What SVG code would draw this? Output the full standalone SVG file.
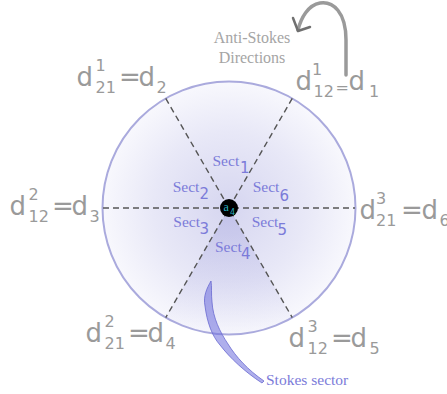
<svg xmlns="http://www.w3.org/2000/svg" width="447" height="394" viewBox="0 0 447 394">
<defs>
<radialGradient id="disk" cx="229" cy="208" r="126.5" gradientUnits="userSpaceOnUse">
<stop offset="0" stop-color="#d6d6f0"/>
<stop offset="0.6" stop-color="#e8e8f7"/>
<stop offset="1" stop-color="#f8f8fd"/>
</radialGradient>
<linearGradient id="wedge" x1="0" y1="208" x2="0" y2="334" gradientUnits="userSpaceOnUse">
<stop offset="0" stop-color="#a8a8e0" stop-opacity="0.45"/>
<stop offset="1" stop-color="#a8a8e0" stop-opacity="0.02"/>
</linearGradient>
<style>
.lbl{font-family:"DejaVu Sans",sans-serif;fill:#9a9a9a;font-size:26px}
.sm{font-size:16px}
.sect{font-family:"Liberation Serif",serif;fill:#7b7bd9;font-size:15.5px}
.sn{font-family:"DejaVu Sans",sans-serif;font-size:15px}
.dash{stroke:#555;stroke-width:1.4;stroke-dasharray:6 4;fill:none}
</style>
</defs>
<g id="disk-node">
<circle cx="229" cy="208" r="126.5" fill="url(#disk)" stroke="#aaaadd" stroke-width="2"/>
<path d="M229,208 L165.75,317.55 A126.5,126.5 0 0 0 292.25,317.55 Z" fill="url(#wedge)"/>
</g>
<g id="connectors">
<line class="dash" x1="103" y1="208" x2="355" y2="208"/>
<line class="dash" x1="165.75" y1="98.45" x2="292.25" y2="317.55"/>
<line class="dash" x1="292.25" y1="98.45" x2="165.75" y2="317.55"/>
<path d="M346,75 L346,40 C346,12 333,1 320,3 C308,5 301,18 298,30" fill="none" stroke="#9a9a9a" stroke-width="3.5" stroke-linecap="round"/>
<path d="M293,18 L298,31 L310,27" fill="none" stroke="#707070" stroke-width="2.5" stroke-linecap="round" stroke-linejoin="round"/>
<path d="M211,281 C207,288 203,296 205,306 C207,322 212,336 220,345 C230,358 245,372 262,383 L264,381 C248,370 236,357 228,344 C220,332 213,318 212,302 C211,294 212,287 211,281 Z" fill="#6e6edc" fill-opacity="0.55" stroke="#6a6ad0" stroke-width="0.8"/>
</g>
<g id="center">
<circle cx="229" cy="208" r="9" fill="#000"/>
<text x="223.5" y="211" font-family="Liberation Serif,serif" font-size="12" fill="#2ab0c0">a</text>
<text x="230" y="215" font-family="DejaVu Sans,sans-serif" font-size="8" fill="#2ab0c0">4</text>
</g>
<g id="sectors">
<text class="sect" x="212.5" y="166">Sect<tspan class="sn" x="240" y="173">1</tspan></text>
<text class="sect" x="172.7" y="192">Sect<tspan class="sn" x="199.5" y="199">2</tspan></text>
<text class="sect" x="252.7" y="192">Sect<tspan class="sn" x="279.5" y="201">6</tspan></text>
<text class="sect" x="173.3" y="227">Sect<tspan class="sn" x="199.5" y="234">3</tspan></text>
<text class="sect" x="251.7" y="227">Sect<tspan class="sn" x="277.5" y="235">5</tspan></text>
<text class="sect" x="215" y="252">Sect<tspan class="sn" x="241" y="259">4</tspan></text>
</g>
<g id="label-d1">
<text class="lbl" x="295.5" y="90">d</text>
<text class="lbl sm" x="312" y="75">1</text>
<text class="lbl sm" x="313.5" y="97">12</text>
<text class="lbl sm" x="335.5" y="93">=</text>
<text class="lbl" x="348.5" y="90">d</text>
<text class="lbl sm" x="369" y="97">1</text>
</g>
<g id="label-d2">
<text class="lbl" x="76.5" y="86">d</text>
<text class="lbl sm" x="95.5" y="71">1</text>
<text class="lbl sm" x="95.5" y="93">21</text>
<text class="lbl" x="119" y="86">=</text>
<text class="lbl" x="138.5" y="86">d</text>
<text class="lbl sm" x="156.5" y="93">2</text>
</g>
<g id="label-d3">
<text class="lbl" x="9.5" y="215">d</text>
<text class="lbl sm" x="28.5" y="200">2</text>
<text class="lbl sm" x="28.5" y="222">12</text>
<text class="lbl" x="52" y="215">=</text>
<text class="lbl" x="71.5" y="215">d</text>
<text class="lbl sm" x="89.5" y="222">3</text>
</g>
<g id="label-d4">
<text class="lbl" x="85.5" y="342">d</text>
<text class="lbl sm" x="104.5" y="327">2</text>
<text class="lbl sm" x="104.5" y="349">21</text>
<text class="lbl" x="128" y="342">=</text>
<text class="lbl" x="147.5" y="342">d</text>
<text class="lbl sm" x="165.5" y="349">4</text>
</g>
<g id="label-d5">
<text class="lbl" x="288.5" y="347">d</text>
<text class="lbl sm" x="307.5" y="332">3</text>
<text class="lbl sm" x="307.5" y="354">12</text>
<text class="lbl" x="331" y="347">=</text>
<text class="lbl" x="350.5" y="347">d</text>
<text class="lbl sm" x="369.5" y="354">5</text>
</g>
<g id="label-d6">
<text class="lbl" x="359.5" y="219">d</text>
<text class="lbl sm" x="376" y="204">3</text>
<text class="lbl sm" x="376" y="226">21</text>
<text class="lbl" x="401" y="219">=</text>
<text class="lbl" x="421.5" y="219">d</text>
<text class="lbl sm" x="439.5" y="226">6</text>
</g>
<g id="anti-stokes">
<text x="252" y="43" font-family="Liberation Serif,serif" font-size="16" fill="#a5a5a5" text-anchor="middle">Anti-Stokes</text>
<text x="252" y="63" font-family="Liberation Serif,serif" font-size="16" fill="#a5a5a5" text-anchor="middle">Directions</text>
</g>
<g id="stokes">
<text x="266" y="385" font-family="Liberation Serif,serif" font-size="15.5" fill="#7b7bd9">Stokes sector</text>
</g>
</svg>
